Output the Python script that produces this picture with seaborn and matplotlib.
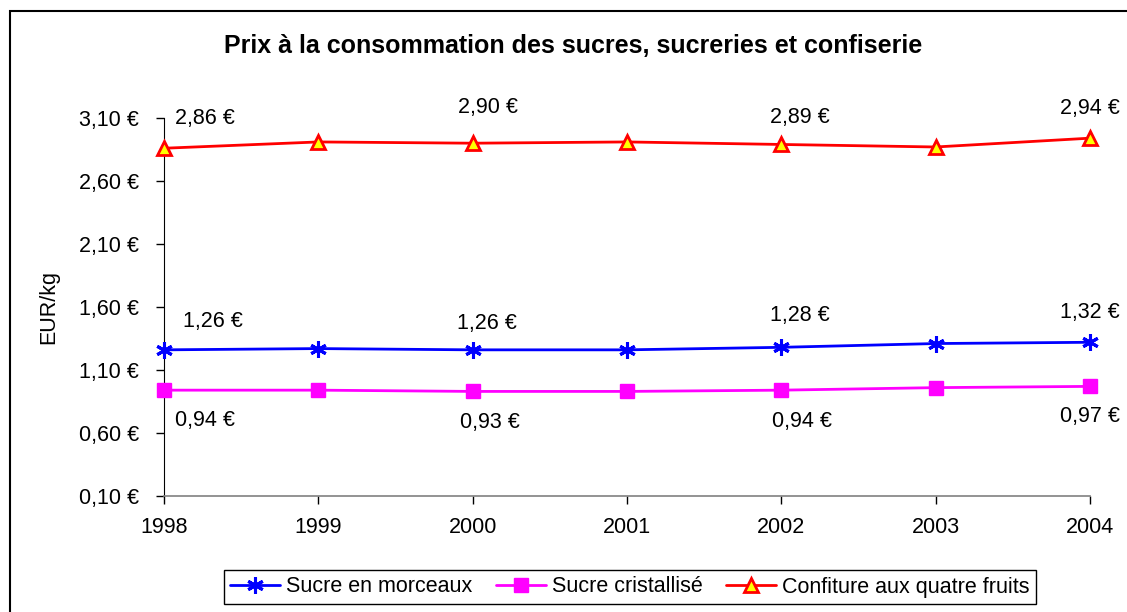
import matplotlib
matplotlib.use("Agg")
import matplotlib.pyplot as plt
from matplotlib.patches import Rectangle
from matplotlib.ticker import FuncFormatter
import seaborn as sns
import pandas as pd

years = [1998, 1999, 2000, 2001, 2002, 2003, 2004]
sucre_morceaux = [1.26, 1.27, 1.26, 1.26, 1.28, 1.31, 1.32]
sucre_cristallise = [0.94, 0.94, 0.93, 0.93, 0.94, 0.96, 0.97]
confiture = [2.86, 2.91, 2.90, 2.91, 2.89, 2.87, 2.94]
series_names = ["Sucre en morceaux", "Sucre cristallisé", "Confiture aux quatre fruits"]
labelled_years = [1998, 2000, 2002, 2004]
y_ticks = [0.10, 0.60, 1.10, 1.60, 2.10, 2.60, 3.10]
title = "Prix à la consommation des sucres, sucreries et confiserie"
y_label = "EUR/kg"

df = pd.DataFrame({
    "year": years * 3,
    "price": sucre_morceaux + sucre_cristallise + confiture,
    "series": [series_names[0]] * 7 + [series_names[1]] * 7 + [series_names[2]] * 7,
})

sns.set_style("ticks")
plt.rcParams["font.family"] = ["Liberation Sans", "DejaVu Sans"]
plt.rcParams["text.color"] = "black"

FS = 15.5
W, H = 1127, 612
fig = plt.figure(figsize=(W / 100, H / 100), dpi=100)
fig.patch.set_facecolor("white")
ax = fig.add_axes([164 / W, (H - 496) / H, (1090 - 164) / W, (496 - 118) / H])

styles = {
    series_names[0]: dict(color="#0000FF", marker=(6, 2, 0), markersize=12,
                          markerfacecolor="#0000FF", markeredgecolor="#0000FF", markeredgewidth=2.2),
    series_names[1]: dict(color="#FF00FF", marker="s", markersize=10,
                          markerfacecolor="#FF00FF", markeredgecolor="#FF00FF", markeredgewidth=1),
    series_names[2]: dict(color="#FF0000", marker="^", markersize=10,
                          markerfacecolor="#FFFF00", markeredgecolor="#FF0000", markeredgewidth=2),
}

for name in series_names:
    sub = df[df["series"] == name]
    sns.lineplot(data=sub, x="year", y="price", ax=ax, label=name, linewidth=2,
                 clip_on=False, zorder=3, **styles[name])

# data labels (pixel offsets)
offsets = {
    series_names[0]: {1998: (49, 28), 2000: (14, 26), 2002: (19, 32), 2004: (0, 30)},
    series_names[1]: {1998: (41, -30), 2000: (17, -31), 2002: (21, -31), 2004: (0, -30)},
    series_names[2]: {1998: (41, 30), 2000: (15, 36), 2002: (19, 27), 2004: (0, 30)},
}
for name in series_names:
    sub = df[df["series"] == name]
    for yr, val in zip(sub["year"], sub["price"]):
        if yr in labelled_years:
            dx, dy = offsets[name][yr]
            ax.annotate(f"{val:.2f} €".replace(".", ","), (yr, val),
                        xytext=(dx, dy), textcoords="offset pixels",
                        ha="center", va="center", fontsize=FS, color="black")

ax.set_xlim(1998, 2004)
ax.set_ylim(0.10, 3.10)
ax.set_xticks(years)
ax.set_xticklabels([str(y) for y in years])
ax.set_yticks(y_ticks)
ax.yaxis.set_major_formatter(FuncFormatter(lambda v, p: f"{v:.2f} €".replace(".", ",")))
ax.tick_params(axis="both", labelsize=FS, colors="black", length=6, width=1)
ax.tick_params(axis="x", pad=9)
ax.tick_params(axis="y", pad=12)
ax.set_xlabel("")
ax.set_ylabel(y_label, fontsize=FS, labelpad=14, color="black")
for s in ["top", "right"]:
    ax.spines[s].set_visible(False)
ax.spines["left"].set_color("black")
ax.spines["bottom"].set_color("#808080")
ax.spines["bottom"].set_linewidth(1.2)

fig.suptitle(title, x=573 / W, y=1 - 46 / H, fontsize=18, fontweight="bold",
             va="center", color="black")

leg = ax.legend(loc="center", bbox_to_anchor=(630 / W, (H - 587) / H),
                bbox_transform=fig.transFigure, ncol=3, fontsize=FS,
                frameon=True, fancybox=False, edgecolor="black", framealpha=1,
                handlelength=2.3, handletextpad=0.3, columnspacing=1.1,
                borderpad=0.3)
leg.get_frame().set_linewidth(1)
for t in leg.get_texts():
    t.set_color("black")

fig.patches.append(Rectangle((10 / W, -0.05), 1.2, 1.05 - 11 / H, transform=fig.transFigure,
                             fill=False, edgecolor="black", linewidth=1.5, zorder=0))

fig.savefig("out.png", dpi=100)
